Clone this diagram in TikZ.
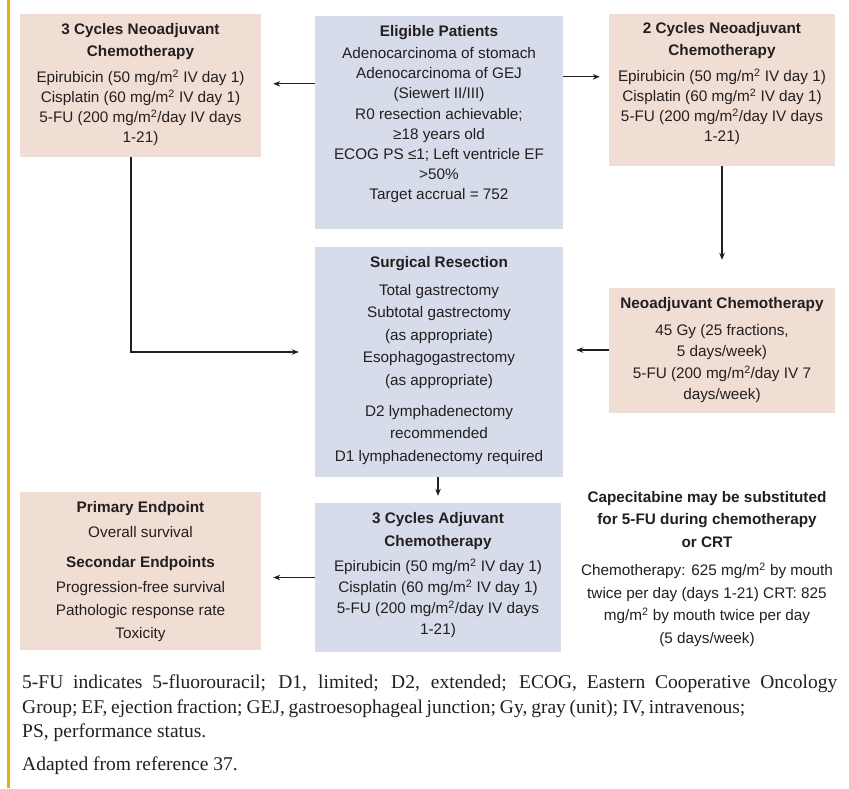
\documentclass[tikz,border=0pt]{standalone}
\usepackage{fontspec}
\setmainfont{Liberation Sans}
\newfontfamily\notefont{Liberation Serif}
\usetikzlibrary{arrows.meta,calc}
\definecolor{peach}{HTML}{F0DDD4}
\definecolor{bluebox}{HTML}{D6DCE9}
\definecolor{gold}{HTML}{E2B600}
\definecolor{ink}{HTML}{231F20}
\begin{document}
\begin{tikzpicture}[x=1pt,y=-1pt,
  peachbox/.style={fill=peach,draw=none,inner sep=0pt,rectangle},
  bluebx/.style={fill=bluebox,draw=none,inner sep=0pt,rectangle},
  txt/.style={anchor=north,align=center,inner sep=0pt,text=ink},
  arr/.style={draw=ink,line width=1.1pt,-{Stealth[length=7pt,width=5.5pt]}},
  note/.style={anchor=base west,inner sep=0pt,text=ink,font=\notefont\fontsize{19.5}{25}\selectfont}]
\fill[white] (0,0) rectangle (849,788);
\useasboundingbox (0,0) rectangle (849,788);
\draw[gold,line width=3pt] (8.5,0) -- (8.5,788);

% boxes
\node[peachbox,minimum width=241pt,minimum height=143pt] (A) at (140.5,85.5) {};
\node[bluebx,minimum width=248pt,minimum height=213pt] (B) at (439,122.5) {};
\node[peachbox,minimum width=226pt,minimum height=152pt] (C) at (722,90) {};
\node[bluebx,minimum width=248pt,minimum height=230pt] (S) at (439,362) {};
\node[peachbox,minimum width=226pt,minimum height=125pt] (N) at (722,350.5) {};
\node[bluebx,minimum width=246pt,minimum height=149pt] (J) at (438,577.5) {};
\node[peachbox,minimum width=241pt,minimum height=158pt] (P) at (140.5,571) {};

% texts
\node[txt,font=\fontsize{15.3}{20}\selectfont] (At) at (140.5,23) {\textbf{3 Cycles Neoadjuvant}\\[2pt]\textbf{Chemotherapy}\\[6pt]Epirubicin (50 mg/m\textsuperscript{2} IV day 1)\\Cisplatin (60 mg/m\textsuperscript{2} IV day 1)\\5-FU (200 mg/m\textsuperscript{2}/day IV days\\1-21)};
\node[txt,font=\fontsize{15.3}{20.2}\selectfont] (Bt) at (439,25) {\textbf{Eligible Patients}\\[2pt]Adenocarcinoma of stomach\\Adenocarcinoma of GEJ\\(Siewert II/III)\\R0 resection achievable;\\≥18 years old\\ECOG PS ≤1; Left ventricle EF\\>50\%\\Target accrual = 752};
\node[txt,font=\fontsize{15.3}{20}\selectfont] (Ct) at (722,22) {\textbf{2 Cycles Neoadjuvant}\\[2pt]\textbf{Chemotherapy}\\[6pt]Epirubicin (50 mg/m\textsuperscript{2} IV day 1)\\Cisplatin (60 mg/m\textsuperscript{2} IV day 1)\\5-FU (200 mg/m\textsuperscript{2}/day IV days\\1-21)};
\node[txt,font=\fontsize{15.3}{22.5}\selectfont] (St) at (439,256) {\textbf{Surgical Resection}\\[5.5pt]Total gastrectomy\\Subtotal gastrectomy\\(as appropriate)\\Esophagogastrectomy\\(as appropriate)\\[8.5pt]D2 lymphadenectomy\\recommended\\D1 lymphadenectomy required};
\node[txt,font=\fontsize{15.3}{21.5}\selectfont] (Nt) at (722,297) {\textbf{Neoadjuvant Chemotherapy}\\[5.5pt]45 Gy (25 fractions,\\5 days/week)\\5-FU (200 mg/m\textsuperscript{2}/day IV 7\\days/week)};
\node[txt,font=\fontsize{15.3}{21}\selectfont] (Jt) at (438,512) {\textbf{3 Cycles Adjuvant}\\[2pt]\textbf{Chemotherapy}\\[4pt]Epirubicin (50 mg/m\textsuperscript{2} IV day 1)\\Cisplatin (60 mg/m\textsuperscript{2} IV day 1)\\5-FU (200 mg/m\textsuperscript{2}/day IV days\\1-21)};
\node[txt,font=\fontsize{15.3}{23}\selectfont] (Pt) at (140.5,501) {\textbf{Primary Endpoint}\\[2pt]Overall survival\\[7pt]\textbf{Secondar Endpoints}\\[2pt]Progression-free survival\\Pathologic response rate\\Toxicity};
\node[txt,font=\fontsize{15.3}{22.6}\selectfont] (Kt) at (707,491) {\textbf{Capecitabine may be substituted}\\\textbf{for 5-FU during chemotherapy}\\\textbf{or CRT}\\[5.5pt]Chemotherapy: 625 mg/m\textsuperscript{2} by mouth\\twice per day (days 1-21) CRT: 825\\mg/m\textsuperscript{2} by mouth twice per day\\(5 days/week)};

% connectors
\coordinate (ba) at ([yshift=-68pt]B.north west);
\draw[arr,shorten >=12pt] (ba) -- (ba -| A.east);
\coordinate (bc) at ([yshift=-61pt]B.north east);
\draw[arr,shorten >=9pt] (bc) -- (bc -| C.west);
\coordinate (as) at ([xshift=-9.5pt]A.south);
\coordinate (sw) at ([yshift=10pt]S.west);
\draw[arr,shorten >=16pt] (as) |- (sw);
\draw[arr,shorten >=28pt] (C.south) -- (N.north);
\coordinate (nw) at ([yshift=0.5pt]N.west);
\draw[arr,shorten >=13pt] (nw) -- (nw -| S.east);
\coordinate (ss) at ([xshift=-1pt]S.south);
\draw[arr,shorten >=7pt] (ss) -- (ss |- J.north);
\draw[arr,shorten >=12pt] (J.west) -- (J.west -| P.east);

% footnote
\node[note] (f1) at (22,688) {\makebox[815pt][s]{5-FU indicates 5-fluorouracil; D1, limited; D2, extended; ECOG, Eastern Cooperative Oncology}};
\node[note] (f2) at (22,713) {\makebox[723pt][s]{Group; EF, ejection fraction; GEJ, gastroesophageal junction; Gy, gray (unit); IV, intravenous;}};
\node[note] (f3) at (22,737) {PS, performance status.};
\node[note] (f4) at (22,770) {Adapted from reference 37.};
\end{tikzpicture}
\end{document}
